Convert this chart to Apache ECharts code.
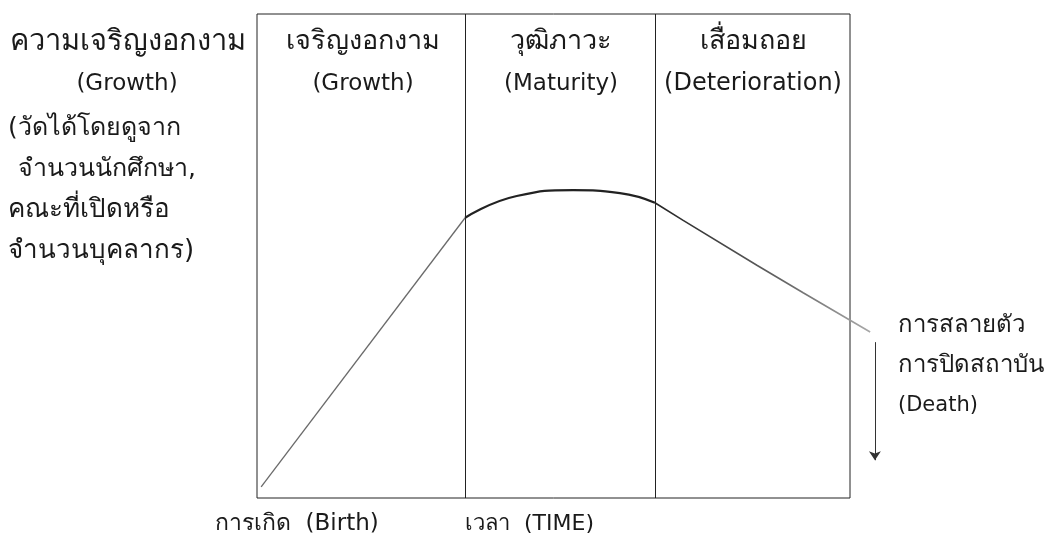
<!DOCTYPE html>
<html>
<head>
<meta charset="UTF-8">
<title>Organisation life cycle</title>
<script src="https://cdn.jsdelivr.net/npm/echarts@6/dist/echarts.min.js"></script>
<style>body{margin:0;background:#fff;}</style>
</head>
<body>
<div id="main" style="width:1054px;height:545px;"></div>
<script>
// time axis: 0..100 is the box, a bit more room on the right for the death arrow
var stageBounds = [35.1, 67.1];
var stageThai = ['เจริญงอกงาม', 'วุฒิภาวะ', 'เสื่อมถอย'];
var stageEng = ['(Growth)', '(Maturity)', '(Deterioration)'];

var growthLine = [[0.7, 2.3], [35.1, 57.9]];
var maturityLine = [[35.1, 57.9], [43.8, 62.4], [53.3, 63.6], [61.2, 63.0], [67.1, 61.0]];
var declineLine = [[67.1, 61.0], [71.8, 57.4], [84.3, 48.1], [92.1, 42.4], [103.4, 34.3]];
var deathArrow = [[104.2, 32.2], [104.2, 7.8]];

var yTitle = ['ความเจริญงอกงาม', '(Growth)'];
var yNote = ['(วัดได้โดยดูจาก', 'จำนวนนักศึกษา,', 'คณะที่เปิดหรือ', 'จำนวนบุคลากร)'];
var deathText = ['การสลายตัว', 'การปิดสถาบัน', '(Death)'];
var birthText = 'การเกิด  (Birth)';
var timeText = 'เวลา  (TIME)';

var FONT = '"DejaVu Sans", sans-serif';

var chartDom = document.getElementById('main');
var myChart = echarts.init(chartDom);

function txt(x, y, s, size, align) {
  return {
    type: 'text', x: x, y: y, silent: true,
    style: {
      text: s, fill: '#1a1a1a', fontFamily: FONT, fontSize: size,
      align: align || 'left', verticalAlign: 'middle'
    }
  };
}

var graphics = [];
graphics.push(txt(128, 42, yTitle[0], 29, 'center'));
graphics.push(txt(127, 84, yTitle[1], 23, 'center'));
var noteX = [8, 18, 8, 8];
var noteSize = [25, 25, 26, 26];
for (var i = 0; i < yNote.length; i++) {
  graphics.push(txt(noteX[i], 128 + i * 41, yNote[i], noteSize[i]));
}
var stageCenters = [363, 561, 753];
var engSize = [23, 23, 24];
for (var i = 0; i < 3; i++) {
  graphics.push(txt(stageCenters[i], 42, stageThai[i], 27, 'center'));
  graphics.push(txt(stageCenters[i], 84, stageEng[i], engSize[i], 'center'));
}
for (var i = 0; i < deathText.length; i++) {
  graphics.push(txt(898, 326 + i * 40, deathText[i], i < 2 ? 24 : 21));
}
graphics.push(txt(215, 524, birthText, 23));
graphics.push(txt(465, 524, timeText, 22));

var option = {
  animation: false,
  backgroundColor: '#fff',
  grid: { left: 257, top: 14, width: 652.3, height: 484, show: false },
  xAxis: { type: 'value', min: 0, max: 110, show: false },
  yAxis: { type: 'value', min: 0, max: 100, show: false },
  graphic: graphics,
  series: [
    {
      type: 'line', data: growthLine, symbol: 'none', clip: false,
      lineStyle: { color: '#6a6a6a', width: 1.3 },
      markArea: {
        silent: true,
        itemStyle: { color: 'rgba(0,0,0,0)', borderColor: '#222', borderWidth: 1 },
        data: [[{ coord: [0, 0] }, { coord: [100, 100] }]]
      },
      markLine: {
        silent: true, symbol: ['none', 'none'], label: { show: false },
        lineStyle: { color: '#222', width: 1, type: 'solid' },
        data: stageBounds.map(function (v) { return { xAxis: v }; })
      }
    },
    {
      type: 'line', data: maturityLine, symbol: 'none', smooth: true, clip: false,
      lineStyle: { color: '#222', width: 2.2 }
    },
    {
      type: 'line', data: declineLine, symbol: 'none', clip: false,
      lineStyle: {
        width: 1.6,
        color: new echarts.graphic.LinearGradient(0, 0, 1, 0, [
          { offset: 0, color: '#222' },
          { offset: 0.6, color: '#666' },
          { offset: 1, color: '#aaa' }
        ])
      },
      markLine: {
        silent: true, symbol: ['none', 'arrow'], symbolSize: 9,
        label: { show: false },
        lineStyle: { color: '#333', width: 1, type: 'solid' },
        data: [[{ coord: deathArrow[0] }, { coord: deathArrow[1] }]]
      }
    }
  ]
};

option && myChart.setOption(option);
</script>
</body>
</html>
